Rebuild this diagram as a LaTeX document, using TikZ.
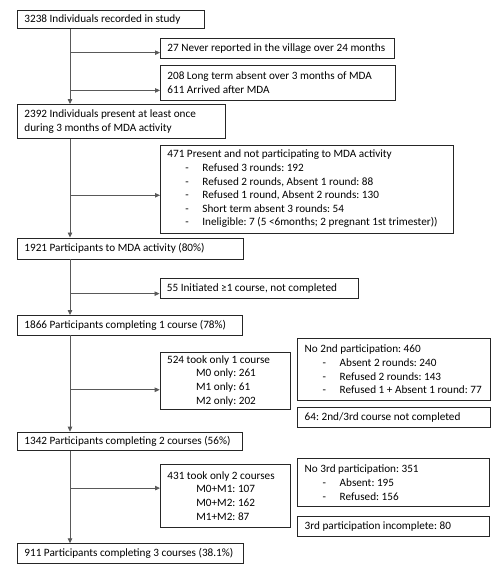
\documentclass[tikz,border=0pt]{standalone}
\usepackage{fontspec}
\setmainfont{Carlito}
\usetikzlibrary{arrows.meta,positioning}

\newcommand{\dashline}[1]{\hspace*{18pt}\makebox[17pt][l]{-}#1}

\begin{document}
\begin{tikzpicture}[
    x = 1pt, y = -1pt, % pixel-like units, y downwards
    > = {Triangle[length=5pt,width=4.5pt]}, % arrow head style
    font = \fontsize{11.2}{13.6}\selectfont,
    semithick % line style
    ]

    \tikzset{box/.style={
    draw = black!85,
    line width = 0.8pt,
    fill = white,
    anchor = north west,
    align = left,
    inner xsep = 7pt,
    inner ysep = 2pt,
    execute at begin node = {\spaceskip=0pt\xspaceskip=0pt\frenchspacing}
    }}
    \tikzset{link/.style={
    ->,
    draw = black!65,
    line width = 0.8pt
    }}

    \useasboundingbox (0,0) rectangle (499,576);

    % main column
    \node[box, text width=173pt, minimum height=18pt] (recorded) at (17,10) {3238 Individuals recorded in study};
    \node[box, text width=194pt, minimum height=34pt] (present) at (17,104) {2392 Individuals present at least once\\during 3 months of MDA activity};
    \node[box, text width=212pt, minimum height=21pt] (part) at (17,237.5) {1921 Participants to MDA activity (80\%)};
    \node[box, text width=211pt, minimum height=19.5pt] (course1) at (17,315) {1866 Participants completing 1 course (78\%)};
    \node[box, text width=211pt, minimum height=18.5pt] (course2) at (17,431.7) {1342 Participants completing 2 courses (56\%)};
    \node[box, text width=212pt, minimum height=19.4pt] (course3) at (17,543.3) {911 Participants completing 3 courses (38.1\%)};

    % exclusions
    \node[box, text width=220pt, minimum height=20.5pt] (never) at (160,37.5) {27 Never reported in the village over 24 months};
    \node[box, text width=221pt, minimum height=35pt] (absent) at (160,64.5) {208 Long term absent over 3 months of MDA\\611 Arrived after MDA};
    \node[box, text width=278.5pt, minimum height=88pt] (notpart) at (160,144.5) {471 Present and not participating to MDA activity\\
    \dashline{Refused 3 rounds: 192}\\
    \dashline{Refused 2 rounds, Absent 1 round: 88}\\
    \dashline{Refused 1 round, Absent 2 rounds: 130}\\
    \dashline{Short term absent 3 rounds: 54}\\
    \dashline{Ineligible: 7 (5 <6months; 2 pregnant 1st trimester))}};
    \node[box, text width=184pt, minimum height=20.5pt] (initiated) at (159.5,277.7) {55 Initiated ≥1 course, not completed};
    \node[box, text width=116.3pt, minimum height=57.3pt] (only1) at (159.7,351.7) {524 took only 1 course\\
    \hspace*{29pt}M0 only: 261\\
    \hspace*{29pt}M1 only: 61\\
    \hspace*{29pt}M2 only: 202};
    \node[box, text width=178.7pt, minimum height=61.7pt] (no2nd) at (297.3,338.3) {No 2nd participation: 460\\
    \dashline{Absent 2 rounds: 240}\\
    \dashline{Refused 2 rounds: 143}\\
    \dashline{Refused 1 + Absent 1 round: 77}};
    \node[box, text width=178.7pt, minimum height=19.4pt] (notcompl) at (297.3,407.3) {64: 2nd/3rd course not completed};
    \node[box, text width=116pt, minimum height=62.4pt] (only2) at (160,464.3) {431 took only 2 courses\\
    \hspace*{29pt}M0+M1: 107\\
    \hspace*{29pt}M0+M2: 162\\
    \hspace*{29pt}M1+M2: 87};
    \node[box, text width=178pt, minimum height=47.7pt] (no3rd) at (297.3,458.3) {No 3rd participation: 351\\
    \dashline{Absent: 195}\\
    \dashline{Refused: 156}};
    \node[box, text width=178pt, minimum height=20pt] (incompl) at (297.3,516) {3rd participation incomplete: 80};

    \coordinate (trunk) at (70,0);

    % vertical flow
    \draw[link] (recorded.south -| trunk) -- (present.north -| trunk);
    \draw[link] (present.south -| trunk) -- (part.north -| trunk);
    \draw[link] (part.south -| trunk) -- (course1.north -| trunk);
    \draw[link] (course1.south -| trunk) -- (course2.north -| trunk);
    \draw[link] (course2.south -| trunk) -- (course3.north -| trunk);

    % branches
    \draw[link] ([yshift=-4.5pt]never.west -| trunk) -- ([yshift=-4.5pt]never.west);
    \draw[link] ([yshift=-8pt]absent.west -| trunk) -- ([yshift=-8pt]absent.west);
    \draw[link] ([yshift=-6.4pt]notpart.west -| trunk) -- ([yshift=-6.4pt]notpart.west);
    \draw[link] ([yshift=-5.3pt]initiated.west -| trunk) -- ([yshift=-5.3pt]initiated.west);
    \draw[link] ([yshift=-9pt]only1.west -| trunk) -- ([yshift=-9pt]only1.west);
    \draw[link] ([yshift=7.8pt]only2.west -| trunk) -- ([yshift=7.8pt]only2.west);
\end{tikzpicture}
\end{document}
